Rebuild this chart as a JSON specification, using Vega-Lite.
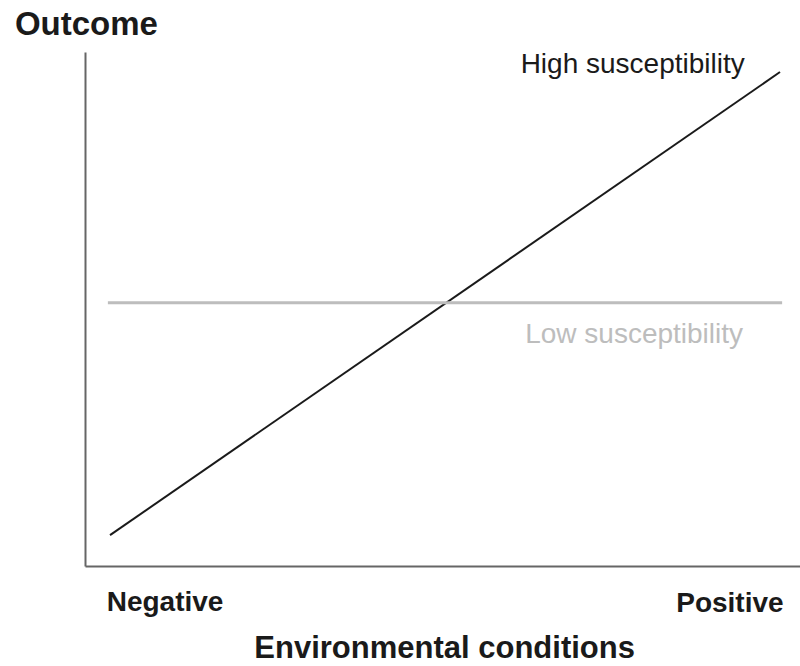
{
  "$schema": "https://vega.github.io/schema/vega-lite/v6.json",
  "width": 715,
  "height": 514,
  "autosize": {"type": "none"},
  "padding": {"left": 85, "top": 52, "right": 0, "bottom": 100},
  "background": "white",
  "config": {"view": {"stroke": null}, "font": "Liberation Sans"},
  "datasets": {
    "lines": [
      {"series": "High", "x": 3.5, "y": 6.0},
      {"series": "High", "x": 97.2, "y": 96.1},
      {"series": "Low", "x": 3.2, "y": 51.2},
      {"series": "Low", "x": 97.5, "y": 51.2}
    ],
    "labels": [
      {"label": "High susceptibility", "x": 76.6, "y": 95.9, "series": "High"},
      {"label": "Low susceptibility", "x": 76.8, "y": 43.4, "series": "Low"}
    ],
    "axislabels": [
      {"label": "Outcome", "x": 0.2, "y": 103.3, "size": 33},
      {"label": "Negative", "x": 11.2, "y": -8.7, "size": 28},
      {"label": "Positive", "x": 90.2, "y": -8.9, "size": 28},
      {"label": "Environmental conditions", "x": 50.3, "y": -17.9, "size": 31}
    ]
  },
  "layer": [
    {
      "data": {"name": "lines"},
      "mark": {"type": "line"},
      "encoding": {
        "x": {"field": "x", "type": "quantitative", "scale": {"domain": [0, 100], "nice": false, "zero": false}, "axis": {"title": null, "labels": false, "ticks": false, "grid": false, "domainColor": "#666", "domainWidth": 2}},
        "y": {"field": "y", "type": "quantitative", "scale": {"domain": [0, 100], "nice": false, "zero": false}, "axis": {"title": null, "labels": false, "ticks": false, "grid": false, "domainColor": "#666", "domainWidth": 2}},
        "detail": {"field": "series"},
        "color": {"field": "series", "type": "nominal", "scale": {"domain": ["High", "Low"], "range": ["#1a1a1a", "#bdbdbd"]}, "legend": null},
        "strokeWidth": {"field": "series", "type": "nominal", "scale": {"domain": ["High", "Low"], "range": [2, 3]}, "legend": null}
      }
    },
    {
      "data": {"name": "labels"},
      "mark": {"type": "text", "align": "center", "baseline": "alphabetic", "fontSize": 28, "font": "Liberation Sans"},
      "encoding": {
        "x": {"field": "x", "type": "quantitative"},
        "y": {"field": "y", "type": "quantitative"},
        "text": {"field": "label"},
        "color": {"field": "series", "type": "nominal", "scale": {"domain": ["High", "Low"], "range": ["#1a1a1a", "#bdbdbd"]}, "legend": null}
      }
    },
    {
      "data": {"name": "axislabels"},
      "mark": {"type": "text", "align": "center", "baseline": "alphabetic", "fontWeight": "bold", "color": "#1a1a1a", "font": "Liberation Sans"},
      "encoding": {
        "x": {"field": "x", "type": "quantitative"},
        "y": {"field": "y", "type": "quantitative"},
        "text": {"field": "label"},
        "size": {"field": "size", "type": "quantitative", "scale": null, "legend": null}
      }
    }
  ]
}
